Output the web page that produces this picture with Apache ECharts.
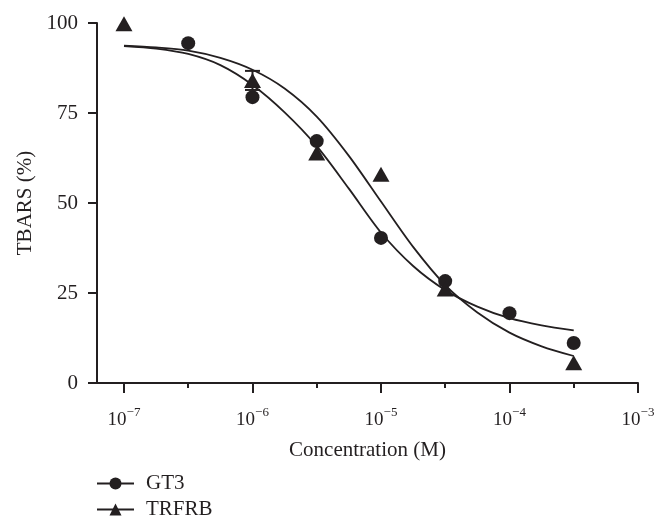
<!DOCTYPE html>
<html>
<head>
<meta charset="utf-8">
<script src="https://cdn.jsdelivr.net/npm/echarts@6/dist/echarts.min.js"></script>
<style>
  html, body { margin: 0; padding: 0; background: #fff; }
  #chart { width: 670px; height: 528px; }
</style>
</head>
<body>
<div id="chart"></div>
<script>
// measured points (concentration in M, TBARS %)
const gt3Conc = [3.16e-7, 1e-6, 3.16e-6, 1e-5, 3.16e-5, 1e-4, 3.16e-4]
const gt3Values = [94.4, 79.4, 67.2, 40.3, 28.3, 19.4, 11.1]
const trfrbConc = [1e-7, 1e-6, 3.16e-6, 1e-5, 3.16e-5, 3.16e-4]
const trfrbValues = [99.8, 84, 63.9, 58.0, 26.1, 5.6]

// error bar on TRFRB at 1e-6 (the only one visible)
const trfrbErrConc = [1e-6]
const trfrbErrLow = [81.4]
const trfrbErrHigh = [86.7]

// fitted curves at quarter decades (log10 M)
const curveLog = [-7, -6.75, -6.5, -6.25, -6, -5.75, -5.5, -5.25, -5, -4.75, -4.5, -4.25, -4, -3.75, -3.5]
const gt3Fit = [93.6, 92.9, 91.4, 88.3, 82.8, 75.2, 65.8, 54.0, 41.8, 32.5, 25.8, 21.2, 18.0, 16.0, 14.6]
const trfrbFit = [93.7, 93.2, 92.3, 90.3, 87.0, 81.8, 74.0, 63.1, 50.4, 37.8, 27.2, 19.6, 14.0, 10.2, 7.5]

const xMajor = [-7, -6, -5, -4, -3]
const xMinor = [-6.5, -5.5, -4.5, -3.5]
const yTicks = [0, 25, 50, 75, 100]

const ink = '#231f20'
const serif = '"Liberation Serif", "Times New Roman", serif'

const toXY = (conc, vals) => conc.map((c, i) => [Math.log10(c), vals[i]])
const supMinus = (n) => String(n).replace('-', '\u2212')

const chart = echarts.init(document.getElementById('chart'), null, { renderer: 'canvas' })

const baseX = {
  type: 'value',
  min: -7.21,
  max: -3,
  splitLine: { show: false }
}

const option = {
  animation: false,
  backgroundColor: '#fff',
  grid: { left: 97, right: 32, top: 23, bottom: 145 },
  legend: {
    orient: 'vertical',
    left: 96,
    top: 473,
    padding: 0,
    itemWidth: 37,
    itemHeight: 15,
    itemGap: 5,
    data: ['GT3', 'TRFRB'],
    textStyle: { fontFamily: serif, fontSize: 21, lineHeight: 16, color: ink, padding: [0, 0, 0, 7] }
  },
  xAxis: [
    {
      ...baseX,
      name: 'Concentration (M)',
      nameLocation: 'middle',
      nameGap: 57,
      nameTextStyle: { fontFamily: serif, fontSize: 21, color: ink },
      axisLine: { lineStyle: { color: ink, width: 2 } },
      axisTick: { customValues: xMajor, length: 10, lineStyle: { color: ink, width: 2 } },
      axisLabel: {
        customValues: xMajor,
        margin: 23,
        color: ink,
        formatter: (v) => '{b|10}{s|' + supMinus(Math.round(v)) + '}',
        rich: {
          b: { fontFamily: serif, fontSize: 19, color: ink, lineHeight: 24, verticalAlign: 'bottom' },
          s: { fontFamily: serif, fontSize: 13, color: ink, lineHeight: 24, verticalAlign: 'top' }
        }
      }
    },
    {
      ...baseX,
      position: 'bottom',
      axisLine: { show: false },
      axisTick: { customValues: xMinor, length: 5, lineStyle: { color: ink, width: 2 } },
      axisLabel: { show: false }
    }
  ],
  yAxis: {
    type: 'value',
    min: 0,
    max: 100,
    interval: 25,
    name: 'TBARS (%)',
    nameLocation: 'middle',
    nameGap: 60,
    nameTextStyle: { fontFamily: serif, fontSize: 21, color: ink },
    splitLine: { show: false },
    axisLine: { show: true, lineStyle: { color: ink, width: 2 } },
    axisTick: { show: true, length: 9, lineStyle: { color: ink, width: 2 } },
    axisLabel: {
      margin: 19,
      fontFamily: serif,
      fontSize: 21,
      color: ink,
      customValues: yTicks
    }
  },
  series: [
    {
      name: 'GT3',
      type: 'line',
      data: curveLog.map((x, i) => [x, gt3Fit[i]]),
      smooth: 0.3,
      symbol: 'circle',
      showSymbol: false,
      lineStyle: { color: ink, width: 1.8 },
      itemStyle: { color: ink },
      z: 2
    },
    {
      name: 'TRFRB',
      type: 'line',
      data: curveLog.map((x, i) => [x, trfrbFit[i]]),
      smooth: 0.3,
      symbol: 'triangle',
      showSymbol: false,
      lineStyle: { color: ink, width: 1.8 },
      itemStyle: { color: ink },
      z: 2
    },
    {
      name: 'TRFRB err',
      type: 'custom',
      data: trfrbErrConc.map((c, i) => [Math.log10(c), trfrbErrLow[i], trfrbErrHigh[i]]),
      renderItem: (params, api) => {
        const lo = api.coord([api.value(0), api.value(1)])
        const hi = api.coord([api.value(0), api.value(2)])
        const half = 7.5
        const st = { stroke: ink, lineWidth: 2 }
        return {
          type: 'group',
          children: [
            { type: 'line', shape: { x1: lo[0], y1: lo[1], x2: hi[0], y2: hi[1] }, style: st },
            { type: 'line', shape: { x1: hi[0] - half, y1: hi[1], x2: hi[0] + half, y2: hi[1] }, style: st },
            { type: 'line', shape: { x1: lo[0] - half, y1: lo[1], x2: lo[0] + half, y2: lo[1] }, style: st }
          ]
        }
      },
      z: 1
    },
    {
      name: 'GT3',
      type: 'scatter',
      data: toXY(gt3Conc, gt3Values),
      symbol: 'circle',
      symbolSize: 14,
      itemStyle: { color: ink, opacity: 1 },
      z: 3
    },
    {
      name: 'TRFRB',
      type: 'scatter',
      data: toXY(trfrbConc, trfrbValues),
      symbol: 'triangle',
      symbolSize: [17, 15],
      itemStyle: { color: ink, opacity: 1 },
      z: 4
    }
  ]
}

chart.setOption(option)
</script>
</body>
</html>
